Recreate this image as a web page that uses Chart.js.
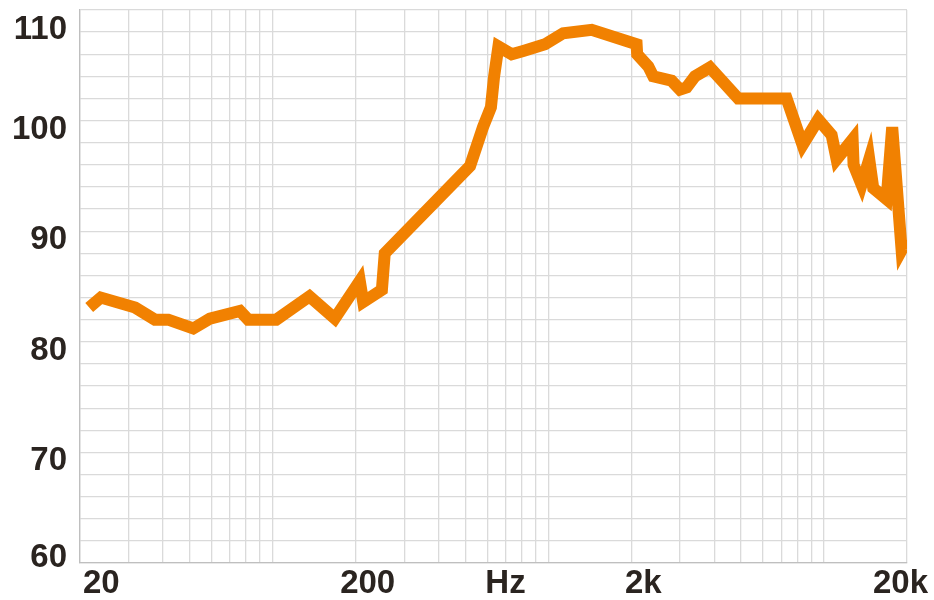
<!DOCTYPE html>
<html>
<head>
<meta charset="utf-8">
<script src="https://cdn.jsdelivr.net/npm/chart.js@4.4.1/dist/chart.umd.min.js"></script>
<style>
  body { margin: 0; background: #fff; }
</style>
</head>
<body>
<canvas id="myChart" width="934" height="600"></canvas>
<script>
// Frequency response data (Hz, dB)
let freqs = [21.6, 23.8, 31.7, 37.4, 41.8, 51.5, 59.2, 76.1, 81.5, 103,
             136, 168, 207, 213, 249, 255, 520, 579, 619, 635,
             659, 736, 811, 972, 1132, 1436, 2090, 2100, 2304, 2402,
             2800, 3002, 3174, 3402, 3856, 4884, 7316, 8362, 9528, 10656,
             11110, 12698, 12800, 13686, 14588, 15086, 16866, 17674, 19120, 20000];
let spl = [83.1, 84.0, 83.1, 82.0, 82.0, 81.2, 82.1, 82.8, 82.0, 82.0,
           84.1, 82.1, 85.5, 83.6, 84.7, 88.0, 95.9, 99.4, 101.2, 103.9,
           106.7, 106.0, 106.3, 106.9, 107.9, 108.2, 106.9, 106.0, 104.9, 104.0,
           103.6, 102.8, 103.0, 104.0, 104.8, 102.0, 102.0, 97.8, 100.1, 98.7,
           96.5, 98.3, 96.0, 94.2, 96.5, 93.9, 92.9, 99.4, 88.3, 89.2];

// grid lines and tick labels
let gridFreqs = [20, 30, 40, 50, 60, 70, 80, 90, 100,
                 200, 300, 400, 500, 600, 700, 800, 900, 1000,
                 2000, 3000, 4000, 5000, 6000, 7000, 8000, 9000, 10000, 20000];
let xTickValues = [20, 200, 2000, 20000];
let xTickLabels = ["20", "200", "2k", "20k"];
let yTickValues = [110, 100, 90, 80, 70, 60];
let yTickLabels = ["110", "100", "90", "80", "70", "60"];

let points = freqs.map((f, i) => ({ x: f, y: spl[i] }));

const FONT = "bold 33px 'Liberation Sans', Arial, sans-serif";
const TEXT = "#2a2420";

// draws the axis labels, a bit below / right of their grid line like the original
const axisLabels = {
  id: "axisLabels",
  afterDraw(chart) {
    const ctx = chart.ctx;
    const area = chart.chartArea;
    const xs = chart.scales.x;
    const ys = chart.scales.y;
    ctx.save();
    ctx.font = FONT;
    ctx.fillStyle = TEXT;
    ctx.textBaseline = "middle";

    // y labels
    ctx.textAlign = "right";
    yTickValues.forEach((v, i) => {
      let py = ys.getPixelForValue(v) + 9;
      py = Math.min(Math.max(py, area.top + 20), area.bottom - 5.5);
      ctx.fillText(yTickLabels[i], area.left - 13, py);
    });

    // x labels
    ctx.textAlign = "center";
    const labelY = area.bottom + 21;
    const drawX = (text, v) => {
      const w = ctx.measureText(text).width;
      let px = xs.getPixelForValue(v) + 12;
      px = Math.max(px, area.left + 3 + w / 2);
      px = Math.min(px, chart.width - 6 - w / 2);
      ctx.fillText(text, px, labelY);
    };
    xTickValues.forEach((v, i) => drawX(xTickLabels[i], v));
    drawX("Hz", Math.sqrt(200 * 2000));
    ctx.restore();
  }
};

new Chart("myChart", {
  type: "line",
  data: {
    datasets: [{
      data: points,
      borderColor: "#f18101",
      borderWidth: 12,
      borderJoinStyle: "miter",
      borderCapStyle: "butt",
      pointRadius: 0,
      tension: 0,
      fill: false
    }]
  },
  options: {
    responsive: false,
    animation: false,
    layout: { padding: { left: 80, right: 27, top: 10, bottom: 37 } },
    plugins: { legend: { display: false }, tooltip: { enabled: false } },
    scales: {
      x: {
        type: "logarithmic",
        min: 20,
        max: 20000,
        afterBuildTicks: (scale) => { scale.ticks = gridFreqs.map(v => ({ value: v })); },
        ticks: { display: false },
        grid: { color: "#dadada", lineWidth: 1.3, drawTicks: false },
        border: { color: "#bfbfbf", width: 1.3 }
      },
      y: {
        min: 60,
        max: 110,
        ticks: { display: false, stepSize: 2 },
        grid: { color: "#dadada", lineWidth: 1.3, drawTicks: false },
        border: { color: "#bfbfbf", width: 1.3 }
      }
    }
  },
  plugins: [axisLabels]
});
</script>
</body>
</html>
